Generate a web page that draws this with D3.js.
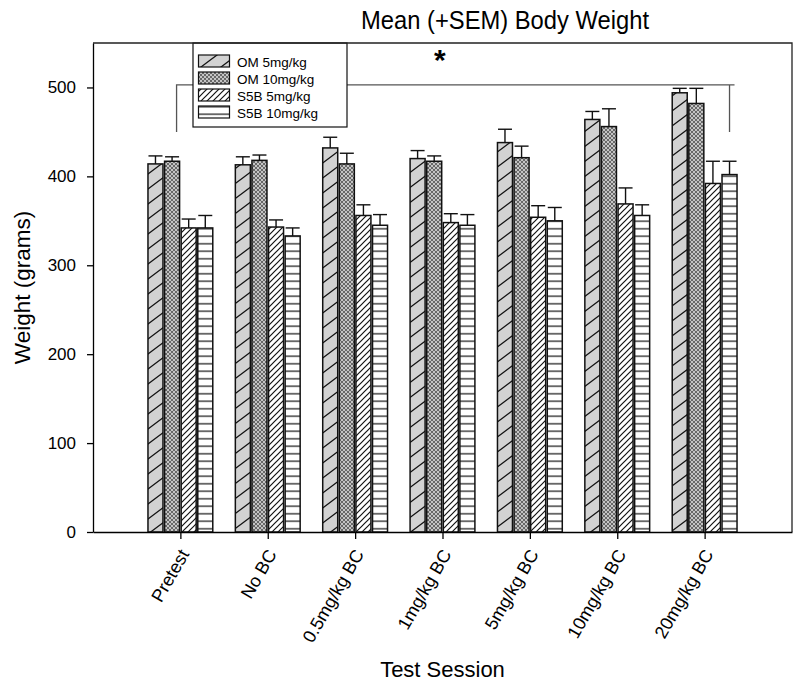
<!DOCTYPE html>
<html>
<head>
<meta charset="utf-8">
<script src="https://cdn.jsdelivr.net/npm/d3@7"></script>
<style>
  body { margin: 0; background: #fff; }
  text { font-family: "Liberation Sans", Arial, sans-serif; }
</style>
</head>
<body>
<div id="chart"></div>
<script>
// test sessions (x categories)
var sessions = ["Pretest", "No BC", "0.5mg/kg BC", "1mg/kg BC", "5mg/kg BC", "10mg/kg BC", "20mg/kg BC"];
var seriesNames = ["OM 5mg/kg", "OM 10mg/kg", "S5B 5mg/kg", "S5B 10mg/kg"];

// mean body weight (grams) and SEM
var om5 = [414, 413, 432, 420, 438, 464, 494];
var om5Sem = [9, 9, 12, 9, 15, 9, 5];
var om10 = [417, 418, 414, 417, 421, 456, 482];
var om10Sem = [5, 6, 12, 6, 13, 20, 17];
var s5b5 = [342, 343, 356, 348, 354, 369, 392];
var s5b5Sem = [10, 8, 12, 10, 13, 18, 25];
var s5b10 = [342, 333, 345, 345, 350, 356, 402];
var s5b10Sem = [14, 9, 12, 12, 15, 12, 15];

var yTicks = [0, 100, 200, 300, 400, 500];

// significance bracket: from Pretest to 20mg/kg BC
var bracketTop = 503, bracketFoot = 450;

var means = [om5, om10, s5b5, s5b10];
var sems = [om5Sem, om10Sem, s5b5Sem, s5b10Sem];
var patternIds = ["p-om5", "p-om10", "p-s5b5", "p-s5b10"];

var width = 800, height = 682;
var plot = {left: 93, right: 792, top: 43, bottom: 532};

var svg = d3.select("#chart")
  .append("svg")
    .attr("width", width)
    .attr("height", height);

svg.append("rect").attr("width", width).attr("height", height).attr("fill", "#fff");

// fill patterns
var defs = svg.append("defs");
function addPattern(id, w, h, bg, d, sw, col) {
  var p = defs.append("pattern")
    .attr("id", id)
    .attr("patternUnits", "userSpaceOnUse")
    .attr("width", w)
    .attr("height", h);
  p.append("rect").attr("width", w).attr("height", h).attr("fill", bg);
  p.append("path").attr("d", d).attr("stroke", col || "#111").attr("stroke-width", sw).attr("fill", "none");
}
addPattern("p-om5", 20, 15, "#d2d2d2", "M0,15 L20,0 M-2,1.5 L2,-1.5 M18,16.5 L22,13.5", 1.3);
addPattern("p-om10", 4, 4, "#c4c4c4", "M0,0 L4,4 M4,0 L0,4", 0.75, "#4a4a4a");
addPattern("p-s5b5", 6, 6, "#fff", "M0,6 L6,0 M-1,1 L1,-1 M5,7 L7,5", 1.2);
addPattern("p-s5b10", 10, 7.5, "#fff", "M0,3.75 L10,3.75", 1.2);

// scales
var x = d3.scaleLinear()
  .domain([0, sessions.length + 1])
  .range([plot.left, plot.right]);

var y = d3.scaleLinear()
  .domain([0, 550])
  .range([plot.bottom, plot.top]);

var band = x(1) - x(0);
var slot = band * 0.19;
var gap = 1.6;

function barX(i, j) { return x(i + 1) + (j - 2) * slot + gap / 2; }
function barCx(i, j) { return x(i + 1) + (j - 1.5) * slot; }

// bars
means.forEach(function(vals, j) {
  svg.append("g")
    .selectAll("rect")
    .data(vals)
    .enter()
    .append("rect")
      .attr("x", function(d, i) { return barX(i, j); })
      .attr("y", function(d) { return y(d); })
      .attr("width", slot - gap)
      .attr("height", function(d) { return y(0) - y(d); })
      .attr("fill", "url(#" + patternIds[j] + ")")
      .attr("stroke", "#111")
      .attr("stroke-width", 1.5);
});

// error bars (upper only)
means.forEach(function(vals, j) {
  var g = svg.append("g").attr("stroke", "#111").attr("stroke-width", 1.4);
  vals.forEach(function(v, i) {
    var cx = barCx(i, j);
    g.append("line")
      .attr("x1", cx).attr("x2", cx)
      .attr("y1", y(v)).attr("y2", y(v + sems[j][i]));
    g.append("line")
      .attr("x1", cx - 7).attr("x2", cx + 7)
      .attr("y1", y(v + sems[j][i])).attr("y2", y(v + sems[j][i]));
  });
});

// significance bracket
var bx1 = barCx(0, 1) + 4.5, bx2 = barCx(6, 3);
svg.append("path")
  .attr("d", "M" + bx1 + "," + y(bracketFoot) + " V" + y(bracketTop) + " H" + (bx2 + 5) +
             " M" + bx2 + "," + y(bracketTop) + " V" + y(bracketFoot))
  .attr("fill", "none")
  .attr("stroke", "#555")
  .attr("stroke-width", 1.3);

svg.append("text")
  .attr("x", x(3.97))
  .attr("y", 70)
  .attr("text-anchor", "middle")
  .style("font-size", "30px")
  .style("font-weight", "bold")
  .text("*");

// legend
var legend = svg.append("g").attr("transform", "translate(193,43)");
legend.append("rect")
  .attr("width", 154).attr("height", 84)
  .attr("fill", "#fff").attr("stroke", "#111").attr("stroke-width", 1.2);
seriesNames.forEach(function(name, j) {
  legend.append("rect")
    .attr("x", 5.5).attr("y", 12 + j * 17)
    .attr("width", 31).attr("height", 12)
    .attr("fill", "url(#" + patternIds[j] + ")")
    .attr("stroke", "#111").attr("stroke-width", 1.2);
  legend.append("text")
    .attr("x", 44).attr("y", 23.5 + j * 17)
    .style("font-size", "13.5px")
    .text(name);
});

// plot frame (top and right)
svg.append("path")
  .attr("d", "M" + plot.left + "," + plot.top + " H" + plot.right + " V" + plot.bottom)
  .attr("fill", "none")
  .attr("stroke", "#222")
  .attr("stroke-width", 1.3);

// axes
var yAxis = svg.append("g")
  .attr("transform", "translate(" + plot.left + ",0)")
  .call(d3.axisLeft(y).tickValues(yTicks).tickSize(6).tickSizeOuter(0).tickPadding(11));
yAxis.selectAll("text").style("font-size", "17px").attr("fill", "#000");
yAxis.selectAll("line, path").attr("stroke", "#000").attr("stroke-width", 1.3);

var xAxis = svg.append("g")
  .attr("transform", "translate(0," + plot.bottom + ")")
  .call(d3.axisBottom(x)
    .tickValues(d3.range(1, sessions.length + 1))
    .tickFormat(function(d) { return sessions[d - 1]; })
    .tickSize(7).tickSizeOuter(0));
xAxis.selectAll("line, path").attr("stroke", "#000").attr("stroke-width", 1.3);
xAxis.selectAll("text")
  .style("font-size", "18px")
  .attr("fill", "#000")
  .attr("text-anchor", "end")
  .attr("dy", null)
  .attr("y", null)
  .attr("transform", "translate(9,22) rotate(-60)");

// titles
svg.append("text")
  .attr("x", 505)
  .attr("y", 29)
  .attr("text-anchor", "middle")
  .attr("textLength", 288)
  .attr("lengthAdjust", "spacingAndGlyphs")
  .style("font-size", "26px")
  .text("Mean (+SEM) Body Weight");

svg.append("text")
  .attr("transform", "translate(30," + ((plot.top + plot.bottom) / 2) + ") rotate(-90)")
  .attr("text-anchor", "middle")
  .style("font-size", "22.5px")
  .text("Weight (grams)");

svg.append("text")
  .attr("x", (plot.left + plot.right) / 2)
  .attr("y", 677)
  .attr("text-anchor", "middle")
  .style("font-size", "22px")
  .text("Test Session");
</script>
</body>
</html>
